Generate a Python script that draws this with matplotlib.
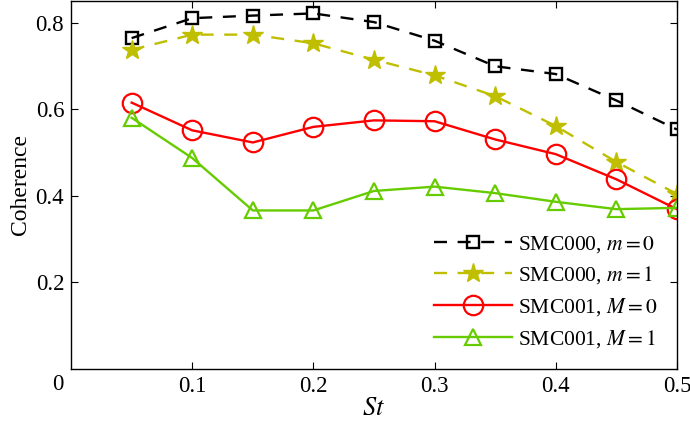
import matplotlib
matplotlib.use('Agg')
import matplotlib.pyplot as plt

plt.rcParams['font.family'] = ['Liberation Serif', 'DejaVu Serif']
plt.rcParams['mathtext.fontset'] = 'stix'

st = [0.05, 0.10, 0.15, 0.20, 0.25, 0.30, 0.35, 0.40, 0.45, 0.50]
smc000_m0 = [0.764, 0.810, 0.816, 0.821, 0.801, 0.758, 0.699, 0.681, 0.620, 0.553]
smc000_m1 = [0.737, 0.772, 0.772, 0.752, 0.714, 0.678, 0.630, 0.561, 0.478, 0.404]
smc001_M0 = [0.615, 0.551, 0.523, 0.559, 0.574, 0.572, 0.530, 0.496, 0.438, 0.369]
smc001_M1 = [0.580, 0.487, 0.366, 0.366, 0.411, 0.421, 0.406, 0.386, 0.369, 0.372]

x_ticks = [0.1, 0.2, 0.3, 0.4, 0.5]
y_ticks = [0.2, 0.4, 0.6, 0.8]

YELLOW = '#bfbf00'
GREEN = '#66cc00'

def main():
    fig = plt.figure(figsize=(6.9, 4.3), dpi=100)
    ax = fig.add_axes([0.103, 0.142, 0.878, 0.856])

    ax.plot(st, smc000_m0, color='black', lw=1.7, dashes=(5.5, 4.5),
            marker='s', ms=9, mfc='none', mew=1.7, label=r'SMC000, $m=0$')
    ax.plot(st, smc000_m1, color=YELLOW, lw=1.7, dashes=(5.5, 4.5),
            marker='*', ms=15, mfc=YELLOW, mew=1.0, label=r'SMC000, $m=1$')
    ax.plot(st, smc001_M0, color='red', lw=1.7,
            marker='o', ms=14, mfc='none', mew=1.6, label=r'SMC001, $M=0$')
    ax.plot(st, smc001_M1, color=GREEN, lw=1.7,
            marker='^', ms=11, mfc='none', mew=1.6, label=r'SMC001, $M=1$')

    ax.set_xlim(0, 0.5)
    ax.set_ylim(0, 0.85)
    ax.set_xticks(x_ticks)
    ax.set_xticklabels(['0.1', '0.2', '0.3', '0.4', '0.5'])
    ax.set_yticks(y_ticks)
    ax.set_yticklabels(['0.2', '0.4', '0.6', '0.8'])
    ax.tick_params(direction='in', top=True, right=True, length=5,
                   width=0.8, labelsize=16.5, pad=5)
    for sp in ax.spines.values():
        sp.set_linewidth(1.0)

    # shared origin label in the corner
    ax.text(-0.022, -0.015, '0', transform=ax.transAxes, fontsize=16.5,
            ha='center', va='top')

    ax.set_xlabel(r'$St$', fontsize=19, labelpad=1)
    ax.set_ylabel('Coherence', fontsize=17, labelpad=3)

    ax.legend(loc='lower right', bbox_to_anchor=(1.0, 0.0), frameon=False,
              fontsize=15.5, handlelength=3.6, labelspacing=0.45,
              handletextpad=0.3)

    fig.savefig('out.png', dpi=100)

if __name__ == '__main__':
    main()
